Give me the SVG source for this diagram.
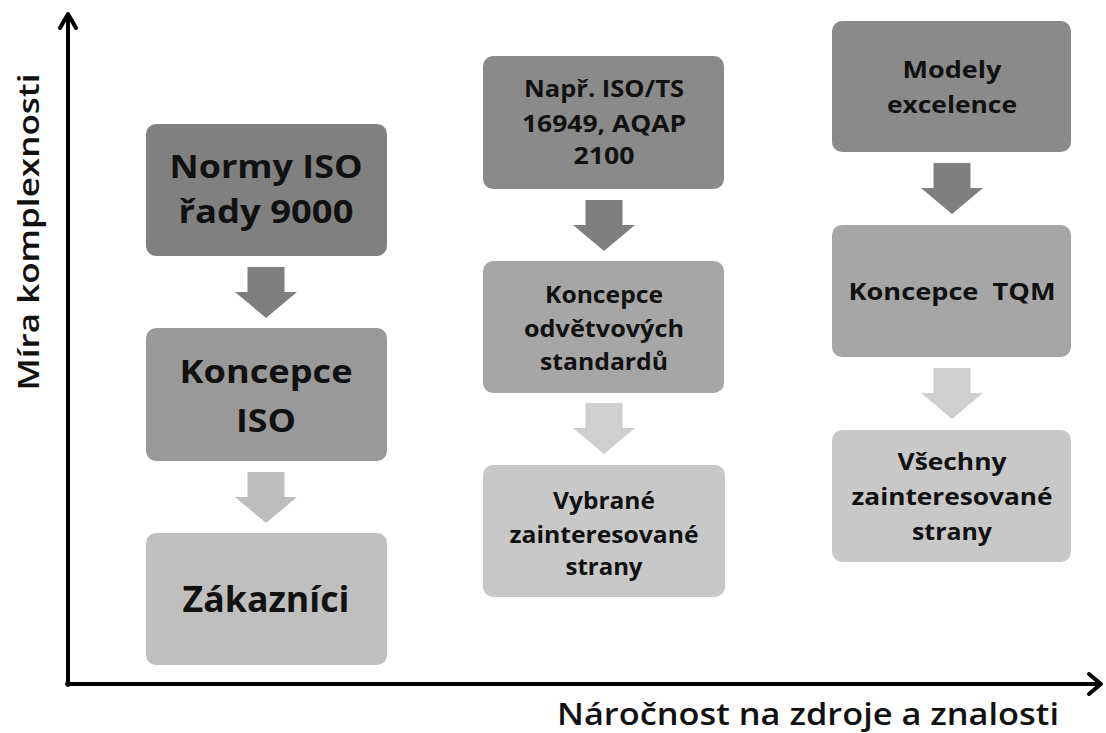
<svg xmlns="http://www.w3.org/2000/svg" width="1106" height="733" viewBox="0 0 1106 733">
  <style>
    .box { stroke: none; }
    .b1 { fill: #808080; }
    .b1m { fill: #8a8a8a; }
    .b2 { fill: #999999; }
    .b2m { fill: #a6a6a6; }
    .b3 { fill: #bfbfbf; }
    .b3m { fill: #c8c8c8; }
    .a1 { fill: #7f7f7f; }
    .a2 { fill: #bdbdbd; }
    .a2m { fill: #cfcfcf; }
    text { font-family: "Open Sans", "Liberation Sans", sans-serif; fill: #111111; text-anchor: middle; }
    .big { font-size: 32px; font-weight: 700; }
    .bigger { font-size: 36px; font-weight: 700; }
    .mid { font-size: 24px; font-weight: 700; }
    .axislbl { font-size: 29px; font-weight: 600; }
    .axislbl2 { font-size: 31px; font-weight: 600; }
    .axis { fill: none; stroke: #000000; stroke-width: 4; stroke-linecap: round; stroke-linejoin: round; }
  </style>
  <defs>
    <path id="blockArrow" d="M-18.5,0 H18.5 V25 H31 L0,51 L-31,25 H-18.5 Z"/>
  </defs>
  <rect width="1106" height="733" fill="#ffffff"/>

  <g id="axes">
    <line class="axis" x1="68" y1="685" x2="68" y2="15"/>
    <polyline class="axis" points="60,28 68,14 76,28"/>
    <line class="axis" x1="67" y1="684" x2="1100" y2="684"/>
    <polyline class="axis" points="1089,674 1101,684 1089,694"/>
    <text class="axislbl" transform="translate(39,232) rotate(-90)" textLength="317" lengthAdjust="spacingAndGlyphs">Míra komplexnosti</text>
    <text class="axislbl2" x="808" y="725" textLength="502" lengthAdjust="spacingAndGlyphs">Náročnost na zdroje a znalosti</text>
  </g>

  <g id="connectors">
    <use href="#blockArrow" class="a1" x="266" y="267"/>
    <use href="#blockArrow" class="a2" x="266" y="472"/>
    <use href="#blockArrow" class="a1" x="604" y="200"/>
    <use href="#blockArrow" class="a2m" x="604" y="403"/>
    <use href="#blockArrow" class="a1" x="952" y="163"/>
    <use href="#blockArrow" class="a2m" x="952" y="368"/>
  </g>

  <g id="normy-iso">
    <rect class="box b1" x="146" y="124" width="241" height="132" rx="10"/>
    <text class="big" x="266" y="178" textLength="193" lengthAdjust="spacingAndGlyphs">Normy ISO</text>
    <text class="big" x="266" y="223" textLength="175" lengthAdjust="spacingAndGlyphs">řady 9000</text>
  </g>
  <g id="koncepce-iso">
    <rect class="box b2" x="146" y="328" width="241" height="133" rx="10"/>
    <text class="big" x="266" y="383" textLength="173" lengthAdjust="spacingAndGlyphs">Koncepce</text>
    <text class="big" x="266" y="432" textLength="60" lengthAdjust="spacingAndGlyphs">ISO</text>
  </g>
  <g id="zakaznici">
    <rect class="box b3" x="146" y="533" width="241" height="132" rx="10"/>
    <text class="bigger" x="266" y="612" textLength="167" lengthAdjust="spacingAndGlyphs">Zákazníci</text>
  </g>

  <g id="napr-iso-ts">
    <rect class="box b1m" x="483" y="56" width="241" height="133" rx="10"/>
    <text class="mid" x="604" y="97" textLength="160" lengthAdjust="spacingAndGlyphs">Např. ISO/TS</text>
    <text class="mid" x="604" y="132" textLength="164" lengthAdjust="spacingAndGlyphs">16949, AQAP</text>
    <text class="mid" x="604" y="164" textLength="61" lengthAdjust="spacingAndGlyphs">2100</text>
  </g>
  <g id="koncepce-odvetvovych">
    <rect class="box b2m" x="483" y="261" width="241" height="132" rx="10"/>
    <text class="mid" x="604" y="303" textLength="118" lengthAdjust="spacingAndGlyphs">Koncepce</text>
    <text class="mid" x="604" y="337" textLength="160" lengthAdjust="spacingAndGlyphs">odvětvových</text>
    <text class="mid" x="604" y="370" textLength="128" lengthAdjust="spacingAndGlyphs">standardů</text>
  </g>
  <g id="vybrane-strany">
    <rect class="box b3m" x="483" y="465" width="242" height="132" rx="10"/>
    <text class="mid" x="604" y="509" textLength="102" lengthAdjust="spacingAndGlyphs">Vybrané</text>
    <text class="mid" x="604" y="543" textLength="189" lengthAdjust="spacingAndGlyphs">zainteresované</text>
    <text class="mid" x="604" y="575" textLength="77" lengthAdjust="spacingAndGlyphs">strany</text>
  </g>

  <g id="modely-excelence">
    <rect class="box b1m" x="832" y="21" width="239" height="131" rx="10"/>
    <text class="mid" x="952" y="78" textLength="99" lengthAdjust="spacingAndGlyphs">Modely</text>
    <text class="mid" x="952" y="113" textLength="130" lengthAdjust="spacingAndGlyphs">excelence</text>
  </g>
  <g id="koncepce-tqm">
    <rect class="box b2m" x="832" y="225" width="239" height="132" rx="10"/>
    <text class="mid" x="952" y="300" textLength="207" lengthAdjust="spacingAndGlyphs" xml:space="preserve">Koncepce  TQM</text>
  </g>
  <g id="vsechny-strany">
    <rect class="box b3m" x="832" y="430" width="239" height="132" rx="10"/>
    <text class="mid" x="952" y="470" textLength="109" lengthAdjust="spacingAndGlyphs">Všechny</text>
    <text class="mid" x="952" y="505" textLength="201" lengthAdjust="spacingAndGlyphs">zainteresované</text>
    <text class="mid" x="952" y="540" textLength="80" lengthAdjust="spacingAndGlyphs">strany</text>
  </g>
</svg>
